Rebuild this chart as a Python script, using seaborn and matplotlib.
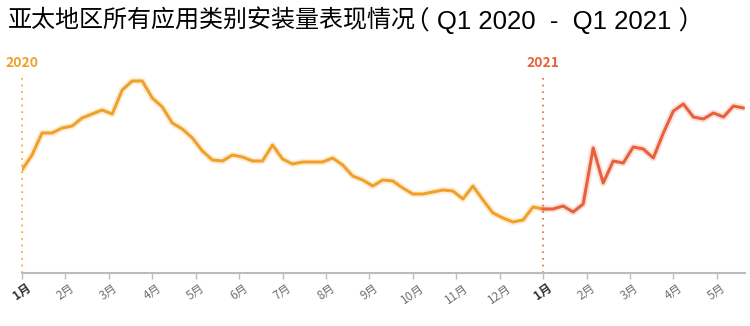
import numpy as np
import pandas as pd
import matplotlib
matplotlib.use("Agg")
import matplotlib.pyplot as plt
import matplotlib.transforms as mtransforms
import seaborn as sns

# weekly install index (relative units, baseline = 0)
values_2020 = [103, 118, 140, 140, 145, 147, 155, 159, 163, 159, 183, 192, 192,
               175, 166, 150, 144, 135, 122, 113, 112, 118, 116, 112, 112, 128,
               114, 109, 111, 111, 111, 115, 108, 97, 93, 87, 93, 92, 85, 79,
               79, 81, 83, 82, 74, 87, 73, 60, 55, 51, 53, 66, 64]
values_2021 = [64, 64, 67, 61, 69, 125, 90, 112, 110, 126, 124, 115, 140, 162,
               169, 156, 154, 160, 156, 167, 165]
month_labels = ["1月", "2月", "3月", "4月", "5月", "6月", "7月", "8月", "9月",
                "10月", "11月", "12月", "1月", "2月", "3月", "4月", "5月"]
year_labels = ["2020", "2021"]
title_cn = "亚太地区所有应用类别安装量表现情况"
title_period = "（ Q1 2020  -  Q1 2021 ）"

color_2020 = "#EFA12A"
color_2021 = "#E8613D"

df20 = pd.DataFrame({"week": np.arange(len(values_2020)), "value": values_2020})
df21 = pd.DataFrame({"week": np.arange(len(values_2021)) + len(values_2020) - 1,
                     "value": values_2021})

sns.set_style("white")
plt.rcParams["font.family"] = ["Noto Sans CJK SC", "DejaVu Sans"]

fig = plt.figure(figsize=(7.5, 3.26), dpi=100)
ax = fig.add_axes([22 / 750, 1 - 273 / 326, 723 / 750, 198 / 326])

# soft glow under the lines
for d, c in [(df20, color_2020), (df21, color_2021)]:
    sns.lineplot(data=d, x="week", y="value", ax=ax, color=c, lw=5,
                 alpha=0.18, legend=False)
    sns.lineplot(data=d, x="week", y="value", ax=ax, color=c, lw=2.2,
                 legend=False)

ax.set_xlim(0, 72.15)
ax.set_ylim(0, 198)

# year markers
starts = [0, len(values_2020) - 1]
trans = mtransforms.blended_transform_factory(ax.transData, ax.transAxes)
for x0, lab, c in zip(starts, year_labels, [color_2020, color_2021]):
    ax.plot([x0, x0], [0, 1], transform=trans, color=c, ls=(0, (1, 3)),
            lw=1.2, clip_on=False)
    ax.text(x0, 1.06, lab, transform=trans, color=c, fontsize=10,
            fontweight="bold", ha="center", va="center")

ticks = np.arange(len(month_labels)) * 52 / 12
ax.set_xticks(ticks)
ax.set_xticklabels(month_labels, rotation=35, ha="center", fontsize=8.5,
                   color="#707070")
for i in [0, 12]:
    ax.get_xticklabels()[i].set_color("#333333")
    ax.get_xticklabels()[i].set_fontweight("bold")
ax.tick_params(axis="x", direction="out", length=4, width=1, color="#BBBBBB",
               pad=2, bottom=True)
ax.set_yticks([])
ax.set_xlabel("")
ax.set_ylabel("")

for s in ["top", "right", "left"]:
    ax.spines[s].set_visible(False)
ax.spines["bottom"].set_color("#BBBBBB")
ax.spines["bottom"].set_linewidth(1.5)

# title: chinese part + period in a plain sans
fig.text(8 / 750, 1 - 20 / 326, title_cn, fontsize=17.3, fontweight="medium",
         ha="left", va="center", color="#000000")
fig.text(404 / 750, 1 - 21 / 326, title_period, fontsize=18.5,
         family=["Liberation Sans", "Noto Sans CJK SC"],
         ha="left", va="center", color="#000000")

fig.savefig("out.png", dpi=100)
